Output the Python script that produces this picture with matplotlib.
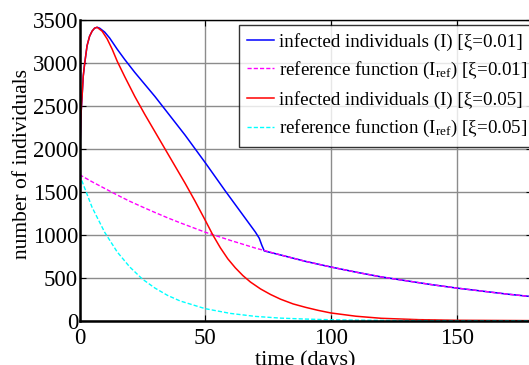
import matplotlib
matplotlib.use("Agg")
import matplotlib.pyplot as plt

plt.rcParams['font.family'] = ['Liberation Serif', 'DejaVu Serif']
plt.rcParams['mathtext.fontset'] = 'custom'
plt.rcParams['mathtext.rm'] = 'Liberation Serif'
plt.rcParams['mathtext.default'] = 'regular'

# infected individuals, xi = 0.01
t_blue = [0, 0.3, 0.6, 1, 1.5, 2, 3, 4, 5, 6, 7, 8, 10, 12, 15, 18, 22, 26,
          30, 34, 38, 42, 46, 50, 54, 58, 62, 66, 70, 71.5, 72.5, 73.5, 80,
          90, 100, 110, 120, 130, 140, 150, 160, 170, 180]
i_blue = [1700, 2100, 2400, 2600, 2850, 2980, 3200, 3310, 3370, 3405, 3415,
          3405, 3360, 3290, 3160, 3040, 2890, 2750, 2610, 2460, 2310, 2160,
          2000, 1840, 1675, 1510, 1350, 1190, 1030, 960, 880, 812, 765, 690,
          625, 565, 510, 465, 420, 380, 345, 310, 280]

# infected individuals, xi = 0.05
t_red = [0, 0.3, 0.6, 1, 1.5, 2, 3, 4, 5, 6, 7, 9, 11, 13, 15, 18, 22, 26,
         30, 34, 38, 42, 46, 50, 53, 56, 59, 62, 65, 68, 72, 76, 80, 85, 90,
         95, 100, 110, 120, 135, 150, 180]
i_red = [1700, 2100, 2400, 2600, 2850, 2980, 3200, 3310, 3370, 3405, 3415,
         3370, 3280, 3160, 3020, 2840, 2610, 2400, 2200, 2000, 1800, 1600,
         1390, 1170, 1000, 850, 720, 615, 525, 450, 370, 305, 250, 195, 155,
         120, 90, 52, 28, 12, 5, 1]

# reference functions
t_ref = [0, 5, 10, 15, 20, 25, 30, 35, 40, 50, 60, 70, 80, 90, 100, 110,
         120, 130, 140, 150, 160, 170, 180]
ref_001 = [1700, 1617, 1540, 1463, 1390, 1324, 1260, 1198, 1140, 1030, 935,
           845, 765, 690, 625, 565, 510, 465, 420, 380, 345, 310, 280]
ref_005 = [1700, 1320, 1030, 800, 625, 485, 380, 295, 230, 140, 85, 50, 30,
           19, 11, 7, 4, 2, 1, 1, 0.5, 0.3, 0.2]

fig = plt.figure(figsize=(5.29, 3.65), dpi=100)
ax = fig.add_axes([79.5 / 529, 44.3 / 365, 452.5 / 529, 300.7 / 365])

ax.plot(t_blue, i_blue, color='#0000ff', lw=1.1,
        label='infected individuals (I) [ξ=0.01]')
ax.plot(t_ref, ref_001, color='#ff00ff', lw=1.0, ls=(0, (3, 1.5)),
        label='reference function (I$_{ref}$) [ξ=0.01]')
ax.plot(t_red, i_red, color='#ff0000', lw=1.1,
        label='infected individuals (I) [ξ=0.05]')
ax.plot(t_ref, ref_005, color='#00ffff', lw=1.0, ls=(0, (3, 1.5)),
        label='reference function (I$_{ref}$) [ξ=0.05]')

ax.set_xlim(0, 180)
ax.set_ylim(0, 3500)
ax.set_xticks([0, 50, 100, 150])
ax.set_yticks(range(0, 3501, 500))
ax.grid(True, color='#8c8c8c', lw=1.0)
ax.set_axisbelow(True)
ax.tick_params(direction='in', length=4, top=True, right=True,
               labelsize=16.5)
ax.tick_params(axis='x', pad=5)
ax.tick_params(axis='y', pad=1)
for side in ['left', 'bottom']:
    ax.spines[side].set_linewidth(1.8)
for side in ['top', 'right']:
    ax.spines[side].set_linewidth(1.0)

ax.set_xlabel('time (days)', fontsize=16, labelpad=1)
ax.set_ylabel('number of individuals', fontsize=15.5)
ax.yaxis.set_label_coords(-0.105, 0.52)

leg = ax.legend(loc='upper left', bbox_to_anchor=(159.5 / 452.5, 1 - 5 / 300.7),
                fontsize=13.7, frameon=True, fancybox=False,
                handlelength=1.45, handletextpad=0.25, borderpad=0.4,
                labelspacing=0.5, borderaxespad=0)
leg.get_frame().set_edgecolor('black')
leg.get_frame().set_linewidth(1.0)

fig.savefig('out.png', dpi=100)
